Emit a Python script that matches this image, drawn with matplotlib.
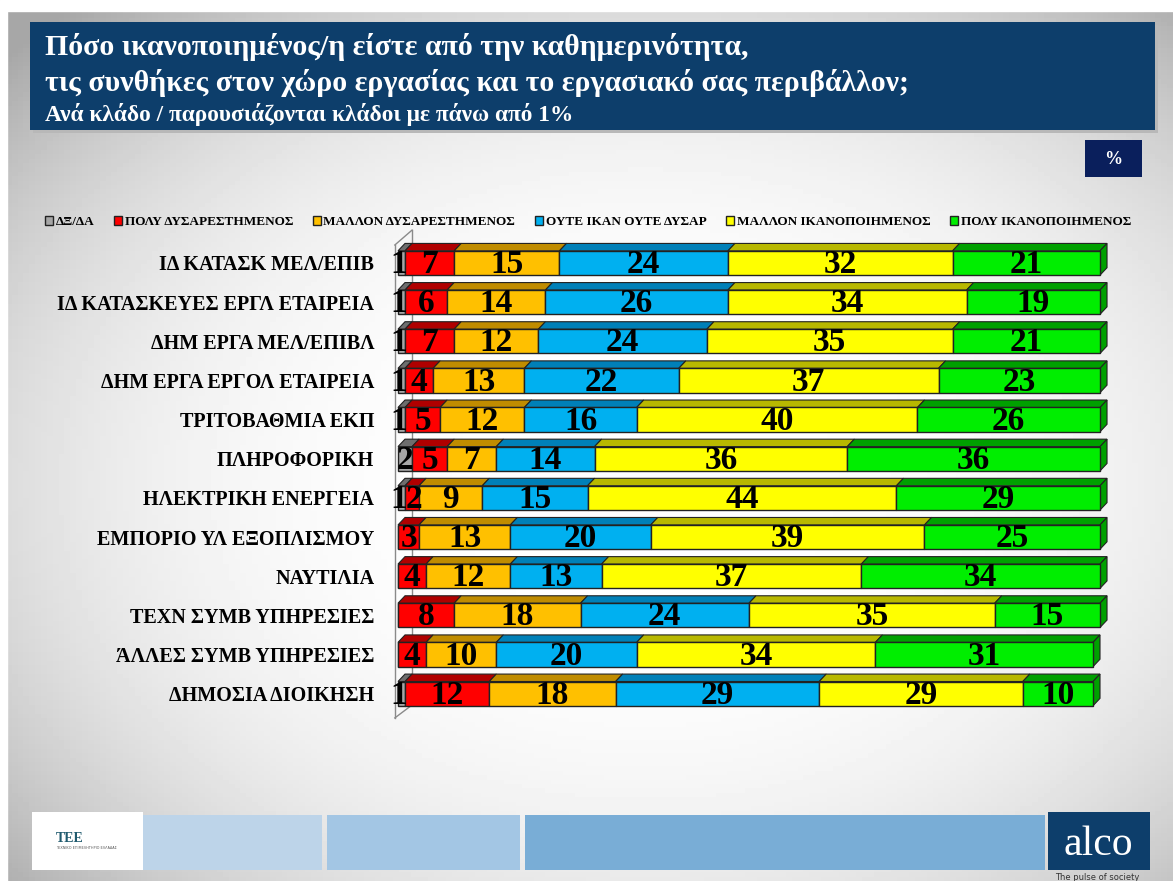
import numpy as np
import matplotlib
matplotlib.use("Agg")
import matplotlib.pyplot as plt
from matplotlib.patches import Rectangle, Polygon

W, H = 1173, 881

cats = ["ΙΔ ΚΑΤΑΣΚ ΜΕΛ/ΕΠΙΒ", "ΙΔ ΚΑΤΑΣΚΕΥΕΣ ΕΡΓΛ ΕΤΑΙΡΕΙΑ", "ΔΗΜ ΕΡΓΑ ΜΕΛ/ΕΠΙΒΛ",
        "ΔΗΜ ΕΡΓΑ ΕΡΓΟΛ ΕΤΑΙΡΕΙΑ", "ΤΡΙΤΟΒΑΘΜΙΑ ΕΚΠ", "ΠΛΗΡΟΦΟΡΙΚΗ",
        "ΗΛΕΚΤΡΙΚΗ ΕΝΕΡΓΕΙΑ", "ΕΜΠΟΡΙΟ ΥΛ ΕΞΟΠΛΙΣΜΟΥ", "ΝΑΥΤΙΛΙΑ",
        "ΤΕΧΝ ΣΥΜΒ ΥΠΗΡΕΣΙΕΣ", "ΆΛΛΕΣ ΣΥΜΒ ΥΠΗΡΕΣΙΕΣ", "ΔΗΜΟΣΙΑ ΔΙΟΙΚΗΣΗ"]

series_names = ["ΔΞ/ΔΑ", "ΠΟΛΥ ΔΥΣΑΡΕΣΤΗΜΕΝΟΣ", "ΜΑΛΛΟΝ ΔΥΣΑΡΕΣΤΗΜΕΝΟΣ",
                "ΟΥΤΕ ΙΚΑΝ ΟΥΤΕ ΔΥΣΑΡ", "ΜΑΛΛΟΝ ΙΚΑΝΟΠΟΙΗΜΕΝΟΣ", "ΠΟΛΥ ΙΚΑΝΟΠΟΙΗΜΕΝΟΣ"]

dk_na = [1, 1, 1, 1, 1, 2, 1, 0, 0, 0, 0, 1]
poly_dys = [7, 6, 7, 4, 5, 5, 2, 3, 4, 8, 4, 12]
mallon_dys = [15, 14, 12, 13, 12, 7, 9, 13, 12, 18, 10, 18]
oute = [24, 26, 24, 22, 16, 14, 15, 20, 13, 24, 20, 29]
mallon_ik = [32, 34, 35, 37, 40, 36, 44, 39, 37, 35, 34, 29]
poly_ik = [21, 19, 21, 23, 26, 36, 29, 25, 34, 15, 31, 10]

front_cols = ["#a6a6a6", "#ff0000", "#ffc000", "#00b0f0", "#ffff00", "#00ee00"]
top_cols = ["#6e6e6e", "#b00000", "#c08c00", "#0080b8", "#b8b800", "#00a000"]

SERIF = "Liberation Serif"
NAVY = "#0d3e6b"

fig = plt.figure(figsize=(W / 100, H / 100), dpi=100)

# background: white centre fading to light grey at the edges
bg = fig.add_axes([0, 0, 1, 1], zorder=-5)
yy, xx = np.mgrid[0:1:200j, 0:1:200j]
r = np.sqrt(((xx - 0.55) / 0.62) ** 2 + ((yy - 0.55) / 0.6) ** 2)
bg.imshow(1 - 0.2 * np.clip(r, 0, 1.2) ** 3, cmap="gray", vmin=0, vmax=1,
          extent=[0, 1, 0, 1], aspect="auto")
bg.add_patch(Rectangle((0, 0.988), 1, 0.012, color="white"))
bg.add_patch(Rectangle((0, 0), 0.006, 1, color="white"))
bg.set_xlim(0, 1)
bg.set_ylim(0, 1)
bg.axis("off")


def px_rect(x, y, w, h, **kw):
    fig.patches.append(Rectangle((x / W, 1 - (y + h) / H), w / W, h / H,
                                 transform=fig.transFigure, **kw))


# title box
px_rect(33, 25, 1125, 108, facecolor="#b8b8b8", edgecolor="none", zorder=0)
px_rect(30, 22, 1125, 108, facecolor=NAVY, edgecolor="none", zorder=1)
fig.text(45 / W, 1 - 47 / H, "Πόσο ικανοποιημένος/η είστε από την καθημερινότητα,",
         color="white", fontsize=21.5, fontweight="bold", family=SERIF, va="center")
fig.text(45 / W, 1 - 83 / H, "τις συνθήκες στον χώρο εργασίας και το εργασιακό σας περιβάλλον;",
         color="white", fontsize=21.5, fontweight="bold", family=SERIF, va="center")
fig.text(45 / W, 1 - 115 / H, "Ανά κλάδο / παρουσιάζονται κλάδοι με πάνω από 1%",
         color="white", fontsize=16.8, fontweight="bold", family=SERIF, va="center")

# % box
px_rect(1085, 140, 57, 37, facecolor="#0a1f5c", edgecolor="none", zorder=1)
fig.text(1113 / W, 1 - 159 / H, "%", color="white", fontsize=13, fontweight="bold",
         family=SERIF, ha="center", va="center")

# footer
px_rect(32, 812, 111, 58, facecolor="white", edgecolor="none")
px_rect(143, 815, 179, 55, facecolor="#bdd4e9", edgecolor="none")
px_rect(327, 815, 193, 55, facecolor="#a3c6e4", edgecolor="none")
px_rect(525, 815, 520, 55, facecolor="#79add6", edgecolor="none")
px_rect(1048, 812, 102, 58, facecolor=NAVY, edgecolor="none")
fig.text(56 / W, 1 - 838 / H, "ΤΕΕ", color="#1f5a6e", fontsize=10, fontweight="bold",
         family=SERIF, va="center")
fig.text(56 / W, 1 - 848 / H, "ΤΕΧΝΙΚΟ ΕΠΙΜΕΛΗΤΗΡΙΟ ΕΛΛΑΔΑΣ", color="#555555", fontsize=2.5,
         family="DejaVu Sans", va="center")
fig.text(1098 / W, 1 - 845 / H, "alco", color="white", fontsize=30, family=SERIF,
         ha="center", va="center")
fig.text(1097 / W, 1 - 877 / H, "The pulse of society", color="#333333", fontsize=6,
         family="DejaVu Sans", ha="center", va="center")

# chart axes: x in %, y in rows
X0, PXPC = 398, 7.02          # pixel of 0 %, pixels per %
Y0, PXROW = 263, 39.15        # pixel of first row centre, pixels per row
xl = (-2, 104)
yl = (11.9, -1.0)
left = X0 + xl[0] * PXPC
right = X0 + xl[1] * PXPC
top = Y0 + yl[1] * PXROW
bot = Y0 + yl[0] * PXROW
ax = fig.add_axes([left / W, 1 - bot / H, (right - left) / W, (bot - top) / H])
ax.set_xlim(*xl)
ax.set_ylim(*yl)
ax.patch.set_alpha(0)
for s in ax.spines.values():
    s.set_visible(False)
ax.set_xticks([])

n = len(cats)
ypos = np.arange(n)
ax.set_yticks(ypos)
ax.set_yticklabels(cats, fontsize=14.5, fontweight="bold", family=SERIF)
ax.tick_params(axis="y", length=0, pad=7)

# back wall
wall = dict(color="#8a8a8a", lw=1, zorder=1)
ax.plot([-0.45, -0.45], [-0.46, 11.62], **wall)
ax.plot([2.0, 2.0], [-0.84, 11.29], **wall)
ax.plot([-0.45, 2.0], [-0.46, -0.84], **wall)
ax.plot([-0.45, 2.0], [11.62, 11.29], **wall)

data = np.array([dk_na, poly_dys, mallon_dys, oute, mallon_ik, poly_ik], dtype=float)
bh = 0.62
dx, dy = 1.0, -0.19
starts = np.zeros(n)
for k in range(len(series_names)):
    vals = data[k]
    ax.barh(ypos, vals, left=starts, height=bh, color=front_cols[k],
            edgecolor="#222222", linewidth=1, zorder=3)
    for i in range(n):
        v = vals[i]
        if v <= 0:
            continue
        x1, x2 = starts[i], starts[i] + v
        yt = ypos[i] - bh / 2
        ax.add_patch(Polygon([(x1, yt), (x2, yt), (x2 + dx, yt + dy), (x1 + dx, yt + dy)],
                             closed=True, facecolor=top_cols[k], edgecolor="#222222",
                             lw=0.8, zorder=2))
        xc = (x1 + x2) / 2
        # tiny segments: nudge the digits apart so they do not collide
        if k == 0 and v < 2:
            xc -= 0.4
        if k == 1 and v < 3:
            xc += 0.25
        ax.text(xc, ypos[i] + 0.04, f"{int(v)}", ha="center", va="center",
                fontsize=24, fontweight="bold", family=SERIF, zorder=5)
    starts = starts + vals

# right side face of each bar
for i in range(n):
    x2 = starts[i]
    yt, yb = ypos[i] - bh / 2, ypos[i] + bh / 2
    ax.add_patch(Polygon([(x2, yt), (x2 + dx, yt + dy), (x2 + dx, yb + dy), (x2, yb)],
                         closed=True, facecolor=top_cols[-1], edgecolor="#222222",
                         lw=0.8, zorder=2))

# legend
handles = [Rectangle((0, 0), 1, 1, facecolor=c, edgecolor="#222222", lw=1)
           for c in front_cols]
fig.legend(handles, series_names, loc="center", bbox_to_anchor=(588 / W, 1 - 222 / H),
           ncol=6, frameon=False, handlelength=0.6, handleheight=0.6, handletextpad=0.2,
           columnspacing=1.5, prop=dict(family=SERIF, weight="bold", size=9.5))

fig.savefig("out.png", dpi=100)
